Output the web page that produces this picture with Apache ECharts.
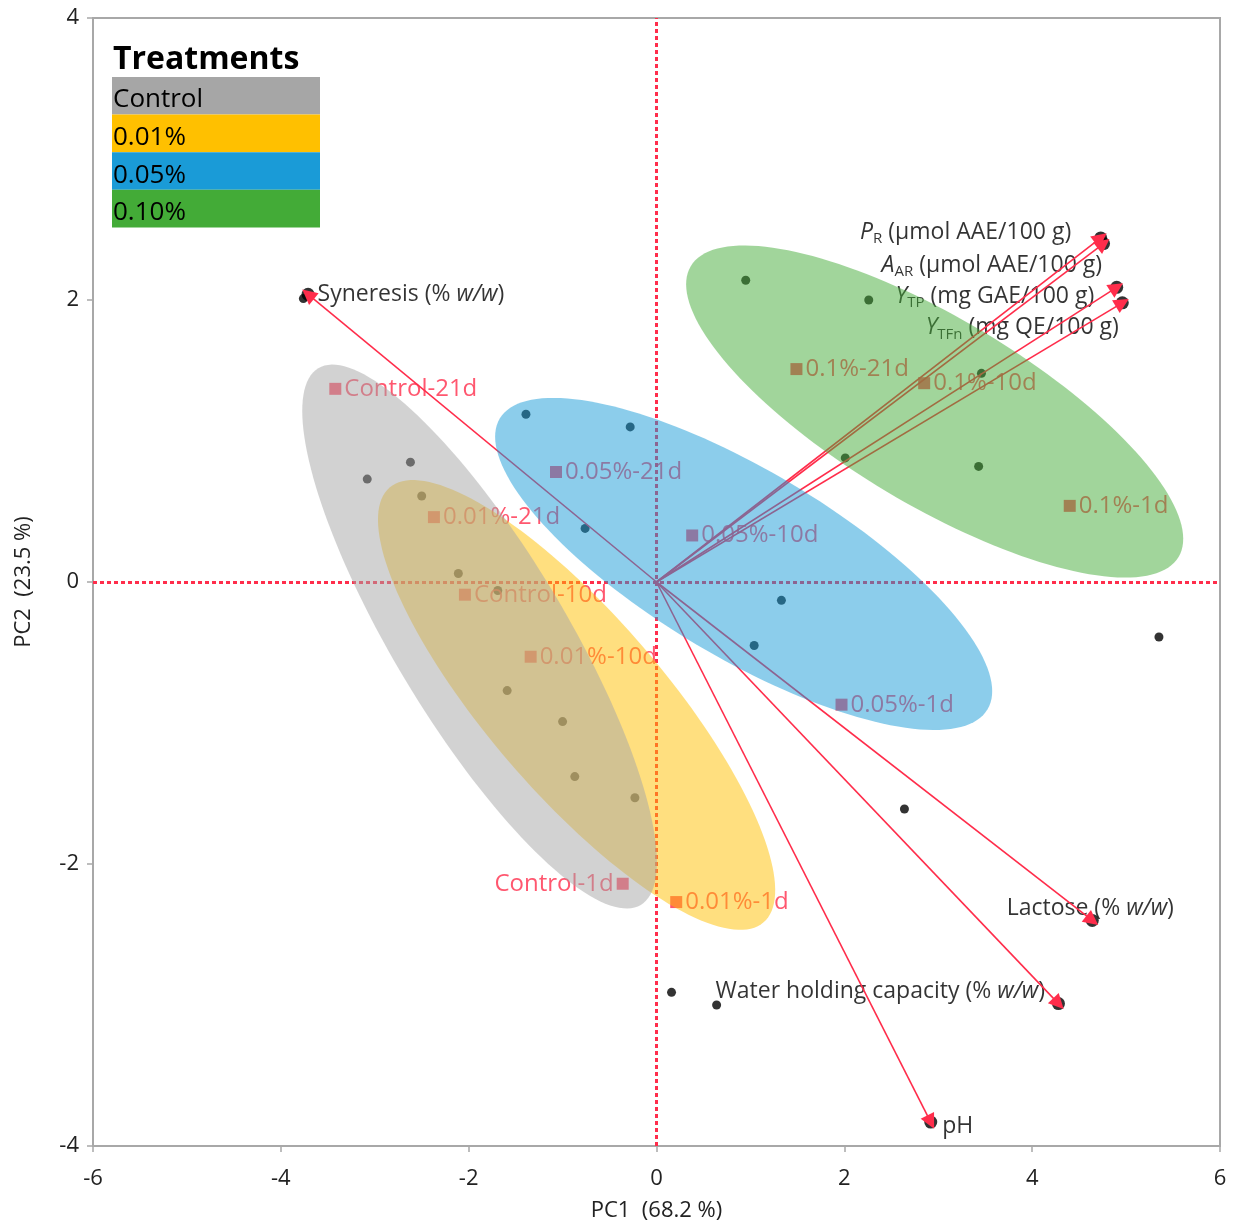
<!DOCTYPE html>
<html><head><meta charset="utf-8">
<script src="https://cdn.jsdelivr.net/npm/echarts@6/dist/echarts.min.js"></script>
<style>html,body{margin:0;padding:0;background:#fff}#c{width:1236px;height:1228px}</style>
</head><body><div id="c"></div>
<script>
// ---- data ----
const obsX = [-3.08,-2.62,-2.50,-2.11,-1.69,-1.59,-1.00,-0.87,-0.23,-1.39,-0.28,-0.76,1.33,1.04,0.95,2.26,3.46,2.01,3.43,-3.76,5.35,2.64,0.16,0.64];
const obsY = [0.73,0.85,0.61,0.06,-0.06,-0.77,-0.99,-1.38,-1.53,1.19,1.10,0.38,-0.13,-0.45,2.14,2.00,1.48,0.88,0.82,2.01,-0.39,-1.61,-2.91,-3.00];

const loadingNames = ['Syneresis','PR','AAR','YTP','YTFn','Lactose','WHC','pH'];
const loadingLabels = [
  'Syneresis (% {i|w/w})',
  '{i|P}{sub|R} (µmol AAE/100 g)',
  '{i|A}{sub|AR} (µmol AAE/100 g)',
  '{i|Y}{sub|TP} (mg GAE/100 g)',
  '{i|Y}{sub|TFn} (mg QE/100 g)',
  'Lactose (% {i|w/w})',
  'Water holding capacity (% {i|w/w})',
  'pH'
];
const loadingX = [-3.71,4.73,4.76,4.90,4.96,4.64,4.28,2.92];
const loadingY = [2.04,2.44,2.40,2.09,1.98,-2.40,-2.99,-3.83];

const treatNames = ['Control-21d','Control-10d','Control-1d','0.01%-21d','0.01%-10d','0.01%-1d','0.05%-21d','0.05%-10d','0.05%-1d','0.1%-21d','0.1%-10d','0.1%-1d'];
const treatX = [-3.42,-2.04,-0.36,-2.37,-1.34,0.21,-1.07,0.38,1.97,1.49,2.85,4.40];
const treatY = [1.37,-0.09,-2.14,0.46,-0.53,-2.27,0.78,0.33,-0.87,1.51,1.41,0.54];

const groupNames = ['Control','0.01%','0.05%','0.10%'];
const groupColors = ['#a6a6a6','#ffc000','#1a9bd7','#43ab37'];
// confidence ellipses: centre and conjugate semi-axis vectors (data units)
const ellCX = [-1.884,-0.851,0.928,2.962];
const ellCY = [-0.387,-0.872,0.128,1.209];
const ellUX = [1.717,1.991,2.597,2.597];
const ellUY = [-1.903,-1.542,-1.031,-1.031];
const ellVX = [-0.785,-0.713,-0.509,-0.509];
const ellVY = [-0.314,-0.408,-0.569,-0.569];

const xMin = -6, xMax = 6, xStep = 2;
const yMin = -4, yMax = 4, yStep = 2;

// ---- chart ----
const FONT = "'Open Sans','Noto Sans',sans-serif";
const RED = '#ff2d4b';
const chart = echarts.init(document.getElementById('c'), null, {renderer:'canvas'});

const loadLabelCfg = [
  {position:'right', offset:[-2,0]},
  {position:'left', offset:[-18,-6]},
  {position:'left', offset:[10,22]},
  {position:'left', offset:[-11,9]},
  {position:'left', offset:[8,25]},
  {position:'top', offset:[-2,14]},
  {position:'left', offset:[-2,-12]},
  {position:'right', offset:[0,4]}
];
const LF = 23;
const richCfg = {
  n:{fontSize:LF, fontFamily:FONT, color:'#000', lineHeight:28},
  i:{fontStyle:'italic', fontSize:LF, fontFamily:FONT, color:'#000', lineHeight:28},
  sub:{fontSize:15, fontFamily:FONT, color:'#000', verticalAlign:'bottom', lineHeight:22}
};

const loadingData = loadingX.map((x,i)=>({
  value:[x, loadingY[i]],
  name: loadingNames[i],
  label:{show:true, formatter: loadingLabels[i], position: loadLabelCfg[i].position, offset: loadLabelCfg[i].offset,
    distance:5, fontSize:LF, fontFamily:FONT, color:'#000', lineHeight:28, rich: richCfg}
}));

const treatData = treatX.map((x,i)=>({
  value:[x, treatY[i]],
  name: treatNames[i],
  label:{show:true, formatter: treatNames[i], position: i===2 ? 'left':'right', distance:3}
}));

const ellData = ellCX.map((cx,i)=>[cx, ellCY[i], ellUX[i], ellUY[i], ellVX[i], ellVY[i], i]);

const legendGraphics = [{
  type:'text', left:113, top:44, style:{text:'Treatments', font:"bold 32px "+FONT, fill:'#000'}
}];
groupNames.forEach((g,i)=>{
  legendGraphics.push({type:'rect', shape:{x:112, y:77+i*37.6, width:208, height:37.6}, style:{fill:groupColors[i]}});
  legendGraphics.push({type:'text', x:113, y:77+i*37.6+23, style:{text:g, font:"26px "+FONT, fill:'#000', verticalAlign:'middle'}});
});

chart.setOption({
  animation:false,
  backgroundColor:'#fff',
  grid:{left:93, right:16, top:18, bottom:82, outerBoundsMode:'none', containLabel:false,
    show:true, borderColor:'#a8a8a8', borderWidth:2, backgroundColor:'transparent'},
  xAxis:{type:'value', min:xMin, max:xMax, interval:xStep,
    name:'PC1  (68.2 %)', nameLocation:'middle', nameGap:54, nameTextStyle:{fontSize:22, fontFamily:FONT, color:'#222'},
    axisLine:{show:true, onZero:false, lineStyle:{color:'#a8a8a8', width:2}},
    axisTick:{show:true, length:6, lineStyle:{color:'#a8a8a8', width:1.5}},
    axisLabel:{fontSize:22, fontFamily:FONT, color:'#222', margin:22},
    splitLine:{show:false}},
  yAxis:{type:'value', min:yMin, max:yMax, interval:yStep,
    name:'PC2  (23.5 %)', nameLocation:'middle', nameGap:58, nameTextStyle:{fontSize:22, fontFamily:FONT, color:'#222'},
    axisLine:{show:true, onZero:false, lineStyle:{color:'#a8a8a8', width:2}},
    axisTick:{show:true, length:6, lineStyle:{color:'#a8a8a8', width:1.5}},
    axisLabel:{fontSize:22, fontFamily:FONT, color:'#222', margin:14},
    splitLine:{show:false}},
  graphic: legendGraphics,
  series:[
    {type:'scatter', name:'obs', z:2, symbol:'circle', symbolSize:9, itemStyle:{color:'#000'},
      data: obsX.map((x,i)=>[x, obsY[i]]),
      markLine:{silent:true, symbol:'none', label:{show:false}, animation:false,
        lineStyle:{color:RED, type:[4,3], width:3},
        data:[{xAxis:0},{yAxis:0}]}},
    {type:'scatter', name:'treatments', z:3, symbol:'rect', symbolSize:12, itemStyle:{color:RED},
      label:{color:RED, fontSize:24, fontFamily:FONT},
      data: treatData},
    {type:'scatter', name:'loadings', z:4, symbol:'circle', symbolSize:13, itemStyle:{color:'#000'},
      data: loadingData},
    {type:'lines', name:'arrows', coordinateSystem:'cartesian2d', z:5, silent:true,
      symbol:['none','triangle'], symbolSize:[12,15],
      lineStyle:{color:RED, width:1.6, opacity:1},
      data: loadingX.map((x,i)=>({coords:[[0,0],[x, loadingY[i]]]}))},
    {type:'custom', name:'ellipses', z:10, silent:true,
      encode:{x:0, y:1},
      data: ellData,
      renderItem:(params, api)=>{
        const cx=api.value(0), cy=api.value(1), ux=api.value(2), uy=api.value(3), vx=api.value(4), vy=api.value(5), k=api.value(6);
        const pts=[];
        for(let j=0;j<=160;j++){
          const t=j/160*Math.PI*2;
          pts.push(api.coord([cx+Math.cos(t)*ux+Math.sin(t)*vx, cy+Math.cos(t)*uy+Math.sin(t)*vy]));
        }
        return {type:'polygon', z2: k===0 ? 10 : k, shape:{points:pts}, style:{fill:groupColors[k], opacity:0.5}};
      }}
  ]
});
</script>
</body></html>
